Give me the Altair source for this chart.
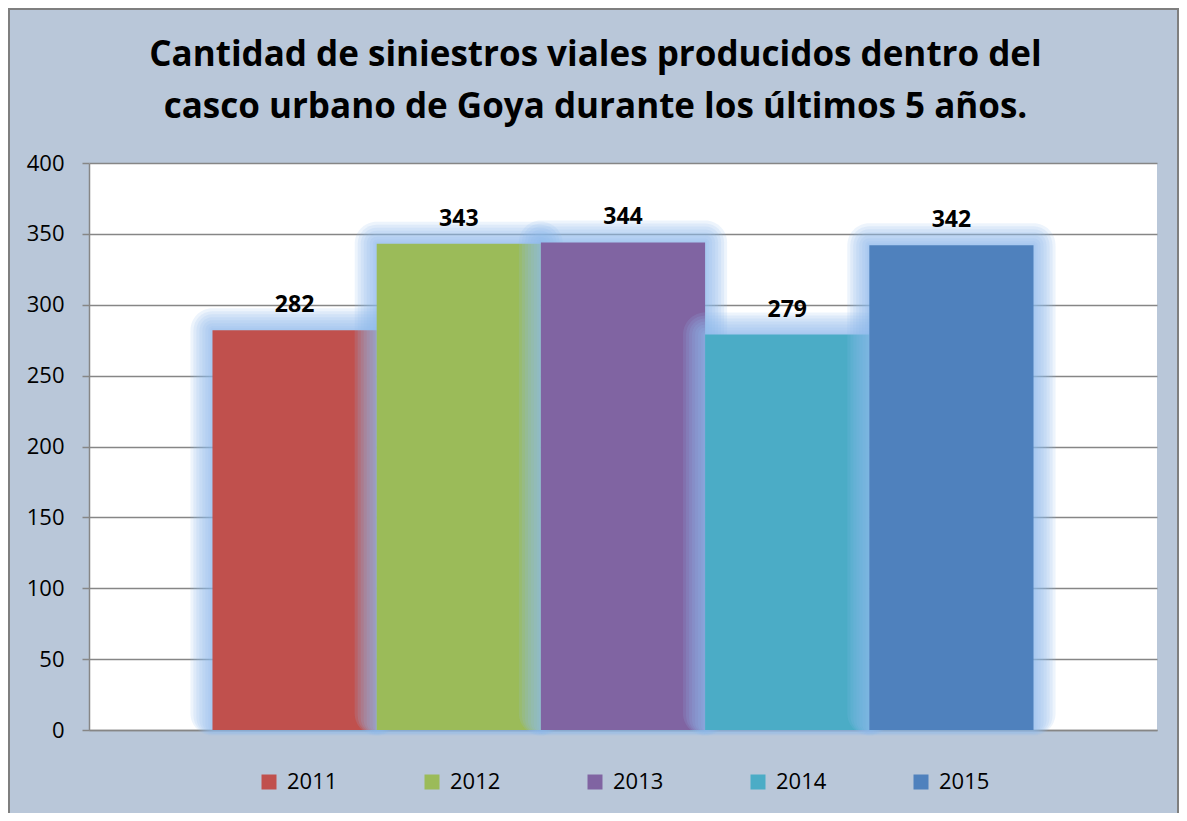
import altair as alt
import pandas as pd

years = ["2011", "2012", "2013", "2014", "2015"]
counts = [282, 343, 344, 279, 342]
colors = ["#C0504D", "#9BBB59", "#8064A2", "#4BACC6", "#4F81BD"]
title_lines = [
    "Cantidad de siniestros viales producidos dentro del",
    "casco urbano de Goya durante los últimos 5 años.",
]
y_ticks = [0, 50, 100, 150, 200, 250, 300, 350, 400]

df = pd.DataFrame({"year": years, "count": counts})

W, H = 1068, 567
PAD = {"left": 81, "top": 155, "right": 22, "bottom": 83}
FONT = "Open Sans"
GRID = "#868686"
YMAX = 400
BAR_W = W / (len(years) + 2 * 0.752)
PX = YMAX / H  # data units per pixel

x_enc = alt.X(
    "year:N",
    scale=alt.Scale(domain=years, paddingInner=0, paddingOuter=0.752),
    axis=alt.Axis(labels=False, ticks=False, title=None,
                  domainColor=GRID, domainWidth=1.5),
)
y_scale = alt.Scale(domain=[0, YMAX], nice=False)
y_enc = alt.Y(
    "count:Q",
    scale=y_scale,
    axis=alt.Axis(values=y_ticks, title=None, labelFontSize=22, labelFont=FONT,
                  labelColor="black", labelPadding=18, tickSize=7, tickColor=GRID,
                  tickWidth=1.5, gridColor=GRID, gridWidth=1.5, domainColor=GRID,
                  domainWidth=1.5),
)

legend = alt.Legend(orient="none", direction="horizontal", legendX=169,
                    legendY=608, title=None, symbolType="square",
                    symbolSize=225, symbolStrokeWidth=0, labelFontSize=22,
                    labelFont=FONT, labelColor="black", labelOffset=7,
                    columnPadding=83, columns=5)
color_enc = alt.Color("year:N", scale=alt.Scale(domain=years, range=colors),
                      legend=legend)

base = alt.Chart(df).encode(x=x_enc, y=y_enc)

layers = []
for yr in years:
    sub = base.transform_filter(alt.datum.year == yr)
    for k in [22, 19, 16, 13, 10, 7, 4, 2]:
        layers.append(
            sub.transform_calculate(
                gtop=f"datum.count + {k * PX}", gbot=f"{-0.25 * k * PX}"
            ).mark_bar(color="#8DBBEE", opacity=0.16, width=BAR_W + 2 * k,
                       cornerRadius=k).encode(
                y=alt.Y("gtop:Q", scale=y_scale, stack=None, title=None),
                y2="gbot:Q",
            )
        )
    layers.append(sub.mark_bar(width=BAR_W).encode(color=color_enc))

labels = base.mark_text(dy=-18, baseline="alphabetic", fontSize=23, font=FONT,
                        fontWeight="bold", color="black").encode(text="count:Q")

frame = alt.Chart(pd.DataFrame({"a": [0]})).mark_rect(
    fill=None, stroke="#7F7F7F", strokeWidth=2
).encode(
    x=alt.value(-PAD["left"] + 1), x2=alt.value(W + PAD["right"] - 1),
    y=alt.value(-PAD["top"] + 1), y2=alt.value(H + PAD["bottom"] + 10),
)

chart = alt.layer(*layers, labels, frame).properties(
    width=W, height=H,
    title=alt.TitleParams(text=title_lines, fontSize=35, font=FONT,
                          fontWeight="bold", color="black", anchor="middle",
                          frame="group", dx=-27.5, offset=-117, lineHeight=52),
    autosize=alt.AutoSizeParams(type="none"),
    padding=PAD,
).configure(background="#B9C7D9").configure_view(fill="white", stroke=None)

chart.save("out.html", embed_options={"renderer": "svg", "actions": False})
